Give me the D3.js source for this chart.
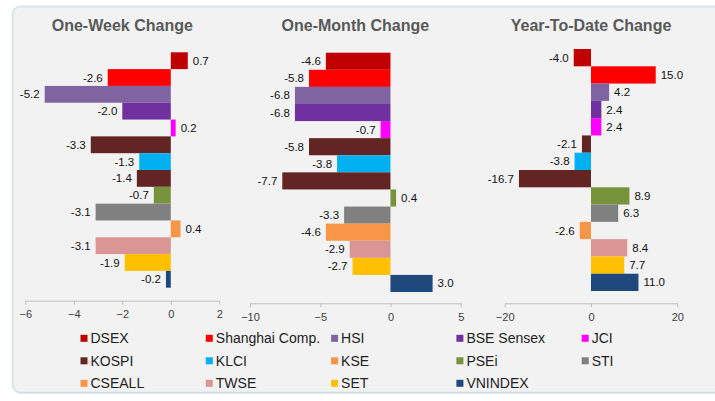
<!DOCTYPE html>
<html>
<head>
<meta charset="utf-8">
<script src="https://cdn.jsdelivr.net/npm/d3@7"></script>
<style>
  html, body { margin: 0; padding: 0; background: #fff; }
  svg { display: block; font-family: "Liberation Sans", Arial, sans-serif; }
</style>
</head>
<body>
<div class="canvas"></div>
<script>
// data
const names = ["DSEX", "Shanghai Comp.", "HSI", "BSE Sensex", "JCI", "KOSPI", "KLCI",
  "KSE", "PSEi", "STI", "CSEALL", "TWSE", "SET", "VNINDEX"];
const weekChange = [0.7, -2.6, -5.2, -2.0, 0.2, -3.3, -1.3, -1.4, -0.7, -3.1, 0.4, -3.1, -1.9, -0.2];
const monthChange = [-4.6, -5.8, -6.8, -6.8, -0.7, -5.8, -3.8, -7.7, 0.4, -3.3, -4.6, -2.9, -2.7, 3.0];
const ytdChange = [-4.0, 15.0, 4.2, 2.4, 2.4, -2.1, -3.8, -16.7, 8.9, 6.3, -2.6, 8.4, 7.7, 11.0];
const weekTicks = [-6, -4, -2, 0, 2];
const monthTicks = [-10, -5, 0, 5];
const ytdTicks = [-20, 0, 20];
const titles = ["One-Week Change", "One-Month Change", "Year-To-Date Change"];

// colours (legend swatches and bars; the KSE bar is drawn brown in the original)
const legendColors = ["#C00000", "#FF0000", "#8064A2", "#7030A0", "#FF00FF", "#632523", "#00B0F0",
  "#F79646", "#77933C", "#808080", "#F79646", "#D99694", "#FFC000", "#1F497D"];
const barColors = legendColors.map((c, i) => names[i] === "KSE" ? "#632523" : c);

const dims = { width: 715, height: 401 };

const svg = d3.select(".canvas")
  .append("svg")
  .attr("width", dims.width)
  .attr("height", dims.height);

// panel background
svg.append("rect")
  .attr("x", 13.5).attr("y", 8)
  .attr("width", 730).attr("height", 386)
  .attr("rx", 8)
  .attr("fill", "#e3ebef");
svg.append("rect")
  .attr("x", 12.5).attr("y", 6.5)
  .attr("width", 730).attr("height", 386)
  .attr("rx", 8)
  .attr("fill", "#f2f2f2")
  .attr("stroke", "#d4dfe5")
  .attr("stroke-width", 1.5);

// layout of the three small charts
const panels = [
  { values: weekChange, ticks: weekTicks, domain: [-6, 2], xr: [25.3, 219.3], yr: [52.3, 287.7], axisY: 300.7 },
  { values: monthChange, ticks: monthTicks, domain: [-10, 5], xr: [250, 460.7], yr: [52.7, 292], axisY: 303.3 },
  { values: ytdChange, ticks: ytdTicks, domain: [-20, 20], xr: [504.7, 677.3], yr: [49, 291], axisY: 303.3 }
];

panels.forEach((p, k) => {
  const x = d3.scaleLinear().domain(p.domain).range(p.xr);
  const y = d3.scaleBand().domain(names).range(p.yr).paddingInner(0);
  const g = svg.append("g");

  g.append("text")
    .attr("x", (p.xr[0] + p.xr[1]) / 2)
    .attr("y", 31)
    .attr("text-anchor", "middle")
    .attr("font-size", 16)
    .attr("font-weight", "bold")
    .attr("fill", "#595959")
    .text(titles[k]);

  g.selectAll("rect.bar")
    .data(p.values)
    .enter()
    .append("rect")
    .attr("class", "bar")
    .attr("x", d => x(Math.min(0, d)))
    .attr("y", (d, i) => y(names[i]))
    .attr("width", d => Math.abs(x(d) - x(0)))
    .attr("height", y.bandwidth())
    .attr("fill", (d, i) => barColors[i]);

  g.selectAll("text.val")
    .data(p.values)
    .enter()
    .append("text")
    .attr("class", "val")
    .attr("x", d => d < 0 ? x(d) - 5 : x(d) + 5)
    .attr("y", (d, i) => y(names[i]) + y.bandwidth() / 2)
    .attr("dy", "0.35em")
    .attr("text-anchor", d => d < 0 ? "end" : "start")
    .attr("font-size", 11.5)
    .attr("fill", "#111")
    .text(d => d.toFixed(1));

  const axis = g.append("g")
    .attr("transform", `translate(0,${p.axisY})`)
    .call(d3.axisBottom(x).tickValues(p.ticks).tickSize(4).tickSizeOuter(0).tickPadding(6)
      .tickFormat(d3.format("d")));
  axis.select(".domain").attr("stroke", "#bfbfbf");
  axis.selectAll(".tick line").attr("stroke", "#bfbfbf");
  axis.selectAll(".tick text")
    .attr("font-size", 11)
    .attr("fill", "#404040")
    .attr("font-family", "'Liberation Sans', Arial, sans-serif");
});

// legend
const legend = svg.append("g");
const items = legend.selectAll("g")
  .data(names)
  .enter()
  .append("g")
  .attr("transform", (d, i) => `translate(${80.5 + (i % 5) * 125.3},${338.3 + Math.floor(i / 5) * 22.5})`);

items.append("rect")
  .attr("x", 0).attr("y", -3.5)
  .attr("width", 7).attr("height", 7)
  .attr("fill", (d, i) => legendColors[i]);

items.append("text")
  .attr("x", 10)
  .attr("dy", "0.35em")
  .attr("font-size", 14)
  .attr("fill", "#222")
  .text(d => d);
</script>
</body>
</html>
